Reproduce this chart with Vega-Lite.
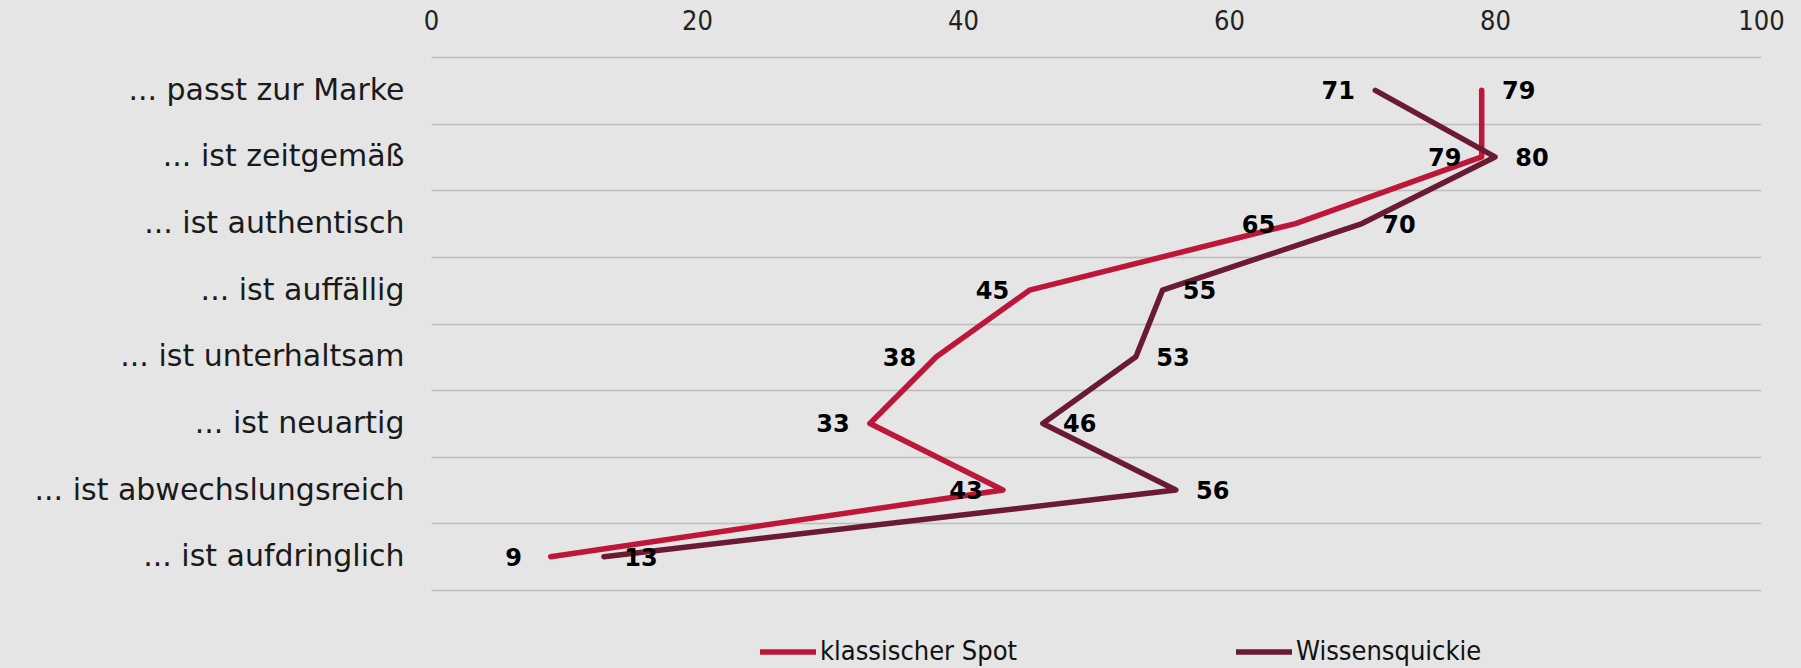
{
  "$schema": "https://vega.github.io/schema/vega-lite/v6.json",
  "width": 1330,
  "height": 533,
  "autosize": {"type": "none"},
  "padding": {"left": 431, "top": 57, "right": 40, "bottom": 78},
  "background": "#e5e5e5",
  "config": {"view": {"stroke": null}, "font": "Open Sans"},
  "data": {
    "values": [
      {"item": "... passt zur Marke", "series": "klassischer Spot", "value": 79},
      {"item": "... ist zeitgemäß", "series": "klassischer Spot", "value": 79},
      {"item": "... ist authentisch", "series": "klassischer Spot", "value": 65},
      {"item": "... ist auffällig", "series": "klassischer Spot", "value": 45},
      {"item": "... ist unterhaltsam", "series": "klassischer Spot", "value": 38},
      {"item": "... ist neuartig", "series": "klassischer Spot", "value": 33},
      {"item": "... ist abwechslungsreich", "series": "klassischer Spot", "value": 43},
      {"item": "... ist aufdringlich", "series": "klassischer Spot", "value": 9},
      {"item": "... passt zur Marke", "series": "Wissensquickie", "value": 71},
      {"item": "... ist zeitgemäß", "series": "Wissensquickie", "value": 80},
      {"item": "... ist authentisch", "series": "Wissensquickie", "value": 70},
      {"item": "... ist auffällig", "series": "Wissensquickie", "value": 55},
      {"item": "... ist unterhaltsam", "series": "Wissensquickie", "value": 53},
      {"item": "... ist neuartig", "series": "Wissensquickie", "value": 46},
      {"item": "... ist abwechslungsreich", "series": "Wissensquickie", "value": 56},
      {"item": "... ist aufdringlich", "series": "Wissensquickie", "value": 13}
    ]
  },
  "encoding": {
    "y": {
      "field": "item",
      "type": "nominal",
      "sort": ["... passt zur Marke", "... ist zeitgemäß", "... ist authentisch", "... ist auffällig", "... ist unterhaltsam", "... ist neuartig", "... ist abwechslungsreich", "... ist aufdringlich"],
      "scale": {"paddingInner": 0, "paddingOuter": 0},
      "axis": {
        "title": null, "orient": "left", "domain": false, "ticks": false, "tickSize": 0,
        "labelPadding": 27, "labelFont": "DejaVu Sans", "labelFontSize": 30, "labelColor": "#1a1a1a", "labelLimit": 600,
        "grid": true, "gridColor": "#bdbdbd", "gridWidth": 1.5, "tickBand": "extent"
      }
    },
    "x": {
      "field": "value",
      "type": "quantitative",
      "scale": {"domain": [0, 100]},
      "axis": {
        "title": null, "orient": "top", "domain": false, "ticks": false, "tickSize": 0, "grid": false,
        "values": [0, 20, 40, 60, 80, 100], "labelPadding": 22, "labelFontSize": 27, "labelFlush": false,
        "labelFont": "Liberation Sans Narrow, DejaVu Sans Condensed, sans-serif", "labelColor": "#222222"
      }
    }
  },
  "layer": [
    {
      "mark": {"type": "line", "strokeWidth": 5.5, "strokeCap": "round", "strokeJoin": "round"},
      "encoding": {
        "color": {
          "field": "series", "type": "nominal",
          "scale": {"domain": ["klassischer Spot", "Wissensquickie"], "range": ["#bd1638", "#6b1a34"]},
          "legend": {
            "title": null, "orient": "none", "legendX": 326, "legendY": 564, "direction": "horizontal",
            "symbolType": "stroke", "symbolSize": 3136, "symbolStrokeWidth": 5.5,
            "labelFontSize": 27, "labelFont": "Liberation Sans Narrow, DejaVu Sans Condensed, sans-serif",
            "labelColor": "#111111", "labelOffset": 1, "labelLimit": 500, "columnPadding": 207
          }
        }
      }
    },
    {
      "transform": [
        {"joinaggregate": [{"op": "max", "field": "value", "as": "rowmax"}], "groupby": ["item"]},
        {"filter": "datum.value == datum.rowmax"}
      ],
      "mark": {"type": "text", "dx": 37, "dy": 2, "align": "center", "baseline": "middle", "font": "DejaVu Sans", "fontSize": 24, "fontWeight": "bold", "color": "#000000"},
      "encoding": {"text": {"field": "value", "type": "quantitative"}}
    },
    {
      "transform": [
        {"joinaggregate": [{"op": "max", "field": "value", "as": "rowmax"}], "groupby": ["item"]},
        {"filter": "datum.value < datum.rowmax"}
      ],
      "mark": {"type": "text", "dx": -37, "dy": 2, "align": "center", "baseline": "middle", "font": "DejaVu Sans", "fontSize": 24, "fontWeight": "bold", "color": "#000000"},
      "encoding": {"text": {"field": "value", "type": "quantitative"}}
    }
  ]
}
